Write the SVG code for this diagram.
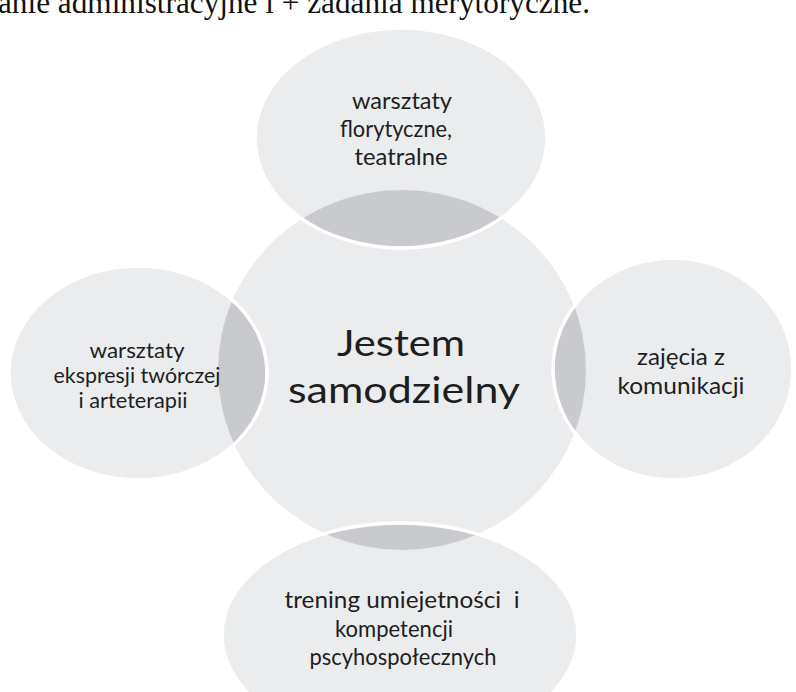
<svg xmlns="http://www.w3.org/2000/svg" width="796" height="692" viewBox="0 0 796 692">
<style>
.sat{fill:#eaecee}
.lens{fill:#c9cacd}
.rim{fill:none;stroke:#ffffff;stroke-width:3.5}
.core{fill:#eaecee}
.t{font-family:Lato,"Liberation Sans",sans-serif;fill:#1e1e1e;text-anchor:middle;white-space:pre}
.hd{font-family:"Liberation Serif","Times New Roman",serif;fill:#111111;font-size:31px}
</style>
<defs>
<clipPath id="clipCore"><ellipse cx="402" cy="370" rx="184" ry="180"/></clipPath>
</defs>
<rect width="796" height="692" fill="#ffffff"/>
<text class="hd" x="-2" y="13" textLength="592" lengthAdjust="spacingAndGlyphs">anie administracyjne i + zadania merytoryczne.</text>
<g id="node-center">
<ellipse class="core" cx="402" cy="370" rx="184" ry="180"/>
</g>
<g id="node-top">
<ellipse class="sat" cx="401" cy="138" rx="146" ry="110"/>
<ellipse class="lens" cx="401" cy="138" rx="146" ry="110" clip-path="url(#clipCore)"/>
<ellipse class="rim" cx="401" cy="138" rx="146" ry="110"/>
<text class="t" font-size="23" x="402" y="109" textLength="100" lengthAdjust="spacingAndGlyphs">warsztaty</text>
<text class="t" font-size="23" x="396" y="137" textLength="112" lengthAdjust="spacingAndGlyphs">florytyczne,</text>
<text class="t" font-size="23" x="401" y="165" textLength="93" lengthAdjust="spacingAndGlyphs">teatralne</text>
</g>
<g id="node-left">
<ellipse class="sat" cx="138" cy="373" rx="129" ry="107"/>
<ellipse class="lens" cx="138" cy="373" rx="129" ry="107" clip-path="url(#clipCore)"/>
<ellipse class="rim" cx="138" cy="373" rx="129" ry="107"/>
<text class="t" font-size="21" x="137" y="358" textLength="95" lengthAdjust="spacingAndGlyphs">warsztaty</text>
<text class="t" font-size="21" x="137" y="383" textLength="167" lengthAdjust="spacingAndGlyphs">ekspresji twórczej</text>
<text class="t" font-size="21" x="133" y="408" textLength="109" lengthAdjust="spacingAndGlyphs">i arteterapii</text>
</g>
<g id="node-right">
<ellipse class="sat" cx="673" cy="369" rx="120" ry="111"/>
<ellipse class="lens" cx="673" cy="369" rx="120" ry="111" clip-path="url(#clipCore)"/>
<ellipse class="rim" cx="673" cy="369" rx="120" ry="111"/>
<text class="t" font-size="24" x="681" y="365" textLength="88" lengthAdjust="spacingAndGlyphs">zajęcia z</text>
<text class="t" font-size="24" x="681" y="394" textLength="127" lengthAdjust="spacingAndGlyphs">komunikacji</text>
</g>
<g id="node-bottom">
<ellipse class="sat" cx="400" cy="635" rx="178" ry="112"/>
<ellipse class="lens" cx="400" cy="635" rx="178" ry="112" clip-path="url(#clipCore)"/>
<ellipse class="rim" cx="400" cy="635" rx="178" ry="112"/>
<text class="t" font-size="24" x="402" y="608" textLength="235" lengthAdjust="spacingAndGlyphs">trening umiejetności  i</text>
<text class="t" font-size="24" x="394" y="637" textLength="118" lengthAdjust="spacingAndGlyphs">kompetencji</text>
<text class="t" font-size="24" x="403" y="665" textLength="187" lengthAdjust="spacingAndGlyphs">pscyhospołecznych</text>
</g>
<g id="node-center-label">
<text class="t" font-size="37" x="401" y="356" textLength="128" lengthAdjust="spacingAndGlyphs">Jestem</text>
<text class="t" font-size="37" x="404" y="403" textLength="232" lengthAdjust="spacingAndGlyphs">samodzielny</text>
</g>
<g id="connectors"/>
</svg>
